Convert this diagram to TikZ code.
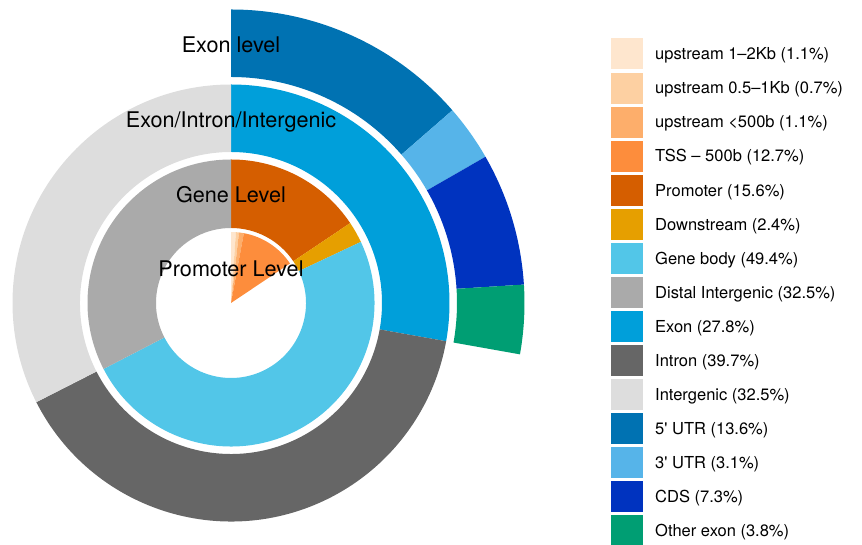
\documentclass[tikz,border=0pt]{standalone}
\usepackage{fontspec}
\setmainfont{TeX Gyre Heros}
\definecolor{cUpA}{HTML}{FEE6CE}
\definecolor{cUpB}{HTML}{FDD0A2}
\definecolor{cUpC}{HTML}{FDAE6B}
\definecolor{cTSS}{HTML}{FD8D3C}
\definecolor{cProm}{HTML}{D55E00}
\definecolor{cDown}{HTML}{E69F00}
\definecolor{cGene}{HTML}{52C6E8}
\definecolor{cDist}{HTML}{AAAAAA}
\definecolor{cExon}{HTML}{009FDA}
\definecolor{cIntr}{HTML}{666666}
\definecolor{cInte}{HTML}{DDDDDD}
\definecolor{cFive}{HTML}{0072B2}
\definecolor{cThree}{HTML}{56B4E9}
\definecolor{cCDS}{HTML}{0033BF}
\definecolor{cOther}{HTML}{009E73}
% annular sector: colour, inner r, outer r, start %, end % (clockwise from top)
\newcommand\annSec[5]{\fill[#1] ({90-3.6*(#4)}:#2) arc[start angle={90-3.6*(#4)}, end angle={90-3.6*(#5)}, radius=#2] -- ({90-3.6*(#5)}:#3) arc[start angle={90-3.6*(#5)}, end angle={90-3.6*(#4)}, radius=#3] -- cycle;}
% pie sector: colour, r, start %, end %
\newcommand\pieSec[4]{\fill[#1] (0,0) -- ({90-3.6*(#3)}:#2) arc[start angle={90-3.6*(#3)}, end angle={90-3.6*(#4)}, radius=#2] -- cycle;}
\begin{document}
\begin{tikzpicture}[x=1pt,y=1pt,
  lvl/.style={font=\fontsize{21.6}{25}\selectfont, anchor=base, inner sep=0pt},
  leg/.style={font=\fontsize{16.5}{19}\selectfont, anchor=base west, inner sep=0pt},
  legbox/.style={minimum width=32pt, minimum height=31pt, inner sep=0pt, draw=none, anchor=north west}]
\useasboundingbox (0,0) rectangle (862,545);
\begin{scope}[shift={(231,242)}]
  % promoter level
  \pieSec{cUpA}{71}{0}{1.1}
  \pieSec{cUpB}{71}{1.1}{1.8}
  \pieSec{cUpC}{71}{1.8}{2.9}
  \pieSec{cTSS}{71}{2.9}{15.6}
  % gene level
  \annSec{cProm}{75}{143.5}{0}{15.6}
  \annSec{cDown}{75}{143.5}{15.6}{18.0}
  \annSec{cGene}{75}{143.5}{18.0}{67.4}
  \annSec{cDist}{75}{143.5}{67.4}{100}
  % exon / intron / intergenic
  \annSec{cExon}{151}{218.5}{0}{27.8}
  \annSec{cIntr}{151}{218.5}{27.8}{67.5}
  \annSec{cInte}{151}{218.5}{67.5}{100}
  % exon level
  \annSec{cFive}{226}{293.5}{0}{13.6}
  \annSec{cThree}{226}{293.5}{13.6}{16.7}
  \annSec{cCDS}{226}{293.5}{16.7}{24.0}
  \annSec{cOther}{226}{293.5}{24.0}{27.8}
\end{scope}
\node[lvl] (lExon) at (231,492) {Exon level};
\node[lvl] (lEII) at (231,417.5) {Exon/Intron/Intergenic};
\node[lvl] (lGene) at (231,342) {Gene Level};
\node[lvl] (lProm) at (231,268) {Promoter Level};
\foreach \c/\t [count=\i from 0] in {
  cUpA/{upstream 1–2Kb (1.1\%)},
  cUpB/{upstream 0.5–1Kb (0.7\%)},
  cUpC/{upstream <500b (1.1\%)},
  cTSS/{TSS – 500b (12.7\%)},
  cProm/{Promoter (15.6\%)},
  cDown/{Downstream (2.4\%)},
  cGene/{Gene body (49.4\%)},
  cDist/{Distal Intergenic (32.5\%)},
  cExon/{Exon (27.8\%)},
  cIntr/{Intron (39.7\%)},
  cInte/{Intergenic (32.5\%)},
  cFive/{5\textquotesingle{} UTR (13.6\%)},
  cThree/{3\textquotesingle{} UTR (3.1\%)},
  cCDS/{CDS (7.3\%)},
  cOther/{Other exon (3.8\%)}} {
  \node[legbox, fill=\c] (box\i) at (611, {545-38.3-34.06*\i}) {};
  \node[leg] (lab\i) at (655, {545-59.8-34.06*\i}) {\t};
}
\end{tikzpicture}
\end{document}
